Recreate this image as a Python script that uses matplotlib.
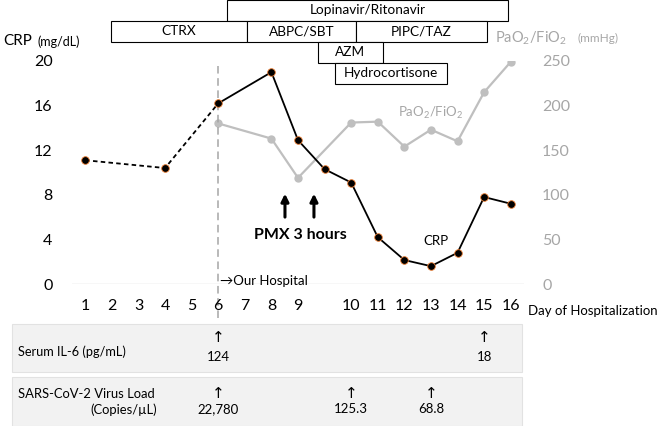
import matplotlib
matplotlib.use("Agg")
import matplotlib.pyplot as plt
import matplotlib.transforms as mtransforms
from matplotlib.patches import Rectangle
import numpy as np

plt.rcParams['font.family'] = ['Lato', 'DejaVu Sans']
plt.rcParams['mathtext.fontset'] = 'custom'
plt.rcParams['mathtext.rm'] = 'Lato'
plt.rcParams['mathtext.it'] = 'Lato:italic'

# ---- data ----
day_labels = ["1", "2", "3", "4", "5", "6", "7", "8", "9", "",
              "10", "11", "12", "13", "14", "15", "16"]
nan = np.nan
crp = [11.1, nan, nan, 10.4, nan, 16.2, nan, 19.0, 12.9, 10.3,
       9.1, 4.2, 2.15, 1.6, 2.8, 7.8, 7.2]
pf_ratio = [nan, nan, nan, nan, nan, 180, nan, 163, 119, nan,
            181, 182, 154, 173, 160, 215, 249]
crp_dashed_until = 5  # outside hospital part (days 1-6) drawn dashed

# treatments: name, start, end (day slot index), row (0 = top)
treat_names = ["Lopinavir/Ritonavir", "CTRX", "ABPC/SBT", "PIPC/TAZ", "AZM", "Hydrocortisone"]
treat_start = [5.33, 0.98, 6.08, 10.2, 8.75, 9.4]
treat_end = [15.9, 6.08, 10.2, 15.1, 11.2, 13.6]
treat_row = [0, 1, 1, 1, 2, 3]

pmx_days = [7.51, 8.6]

il6_pos = [5, 15]
il6_vals = ["124", "18"]
virus_pos = [5, 10, 13]
virus_vals = ["22,780", "125.3", "68.8"]

W, H = 661, 426
fig = plt.figure(figsize=(W / 100, H / 100), dpi=100)
ax = fig.add_axes([72 / W, (H - 284) / H, 452 / W, 223 / H])
ax2 = ax.twinx()

x = np.arange(len(day_labels))
crp_arr = np.array(crp, dtype=float)
pf_arr = np.array(pf_ratio, dtype=float)

gray = "#bfbfbf"
gray_txt = "#a6a6a6"

# PaO2/FiO2 (gaps connected)
m = ~np.isnan(pf_arr)
ax2.plot(x[m], pf_arr[m], color=gray, lw=1.6, marker="o", ms=5,
         mfc=gray, mec=gray, zorder=2)

# CRP
mc = ~np.isnan(crp_arr)
xd = x[mc & (x <= crp_dashed_until)]
ax.plot(xd, crp_arr[xd], color="black", lw=1.3, ls=(0, (2.5, 1.8)), zorder=3)
xs = x[mc & (x >= crp_dashed_until)]
ax.plot(xs, crp_arr[xs], color="black", lw=1.3, zorder=3)
ax.plot(x[mc], crp_arr[mc], ls="none", marker="o", ms=5.5, mfc="black",
        mec="#ed7d31", mew=0.6, zorder=4)

ax.set_zorder(ax2.get_zorder() + 1)
ax.patch.set_visible(False)

ax.set_xlim(-0.5, len(day_labels) - 0.5)
ax.set_ylim(0, 20)
ax2.set_ylim(0, 250)
ax.set_yticks([0, 4, 8, 12, 16, 20])
ax2.set_yticks([0, 50, 100, 150, 200, 250])
ax.set_xticks(x)
ax.set_xticklabels(day_labels)
for a in (ax, ax2):
    for s in a.spines.values():
        s.set_visible(False)
ax.axhline(0, color="#d9d9d9", lw=1, zorder=1)
ax.tick_params(axis="x", length=0, pad=11, labelsize=11.5)
ax.tick_params(axis="y", length=0, pad=14, labelsize=11.5)
ax2.tick_params(axis="y", length=0, pad=13, labelsize=11.5, labelcolor=gray_txt)

# arrival line
ax.plot([5, 5], [-0.152, 0.978], transform=ax.get_xaxis_transform(),
        color="#a6a6a6", lw=1.1, ls=(0, (5, 3)), clip_on=False, zorder=1)
ax.text(5.05, 0.27, "\u2192Our Hospital", fontsize=9.5, va="center", ha="left")

# PMX arrows
for d in pmx_days:
    ax.annotate("", xy=(d, 8.1), xytext=(d, 6.0),
                arrowprops=dict(arrowstyle="-|>", lw=2.2, color="black",
                                mutation_scale=11, shrinkA=0, shrinkB=0))
ax.text(8.1, 4.4, "PMX 3 hours", fontsize=11.5, fontweight="bold", ha="center", va="center")
ax.text(13.2, 3.9, "CRP", fontsize=9.5, ha="center", va="center")
ax.text(13.0, 15.3, "PaO$_2$/FiO$_2$", fontsize=9.5, ha="center", va="center", color=gray_txt)

# treatment boxes
trans = mtransforms.blended_transform_factory(ax.transData, ax.transAxes)
row_top = 1.2735
row_h = 0.094
for name, s, e, r in zip(treat_names, treat_start, treat_end, treat_row):
    y0 = row_top - (r + 1) * row_h
    ax.add_patch(Rectangle((s, y0), e - s, row_h, transform=trans, fill=True,
                           fc="white", ec="black", lw=0.8, clip_on=False, zorder=5))
    ax.text((s + e) / 2, y0 + row_h / 2, name, transform=trans, fontsize=9.8,
            ha="center", va="center", zorder=6, clip_on=False)

# axis titles
fig.text(3 / W, 1 - 41 / H, "CRP", fontsize=11, va="center", ha="left")
fig.text(37 / W, 1 - 42 / H, "(mg/dL)", fontsize=9, va="center", ha="left")
fig.text(495 / W, 1 - 38 / H, "PaO$_2$/FiO$_2$", fontsize=10.5, va="center", ha="left", color=gray_txt)
fig.text(578 / W, 1 - 38 / H, "(mmHg)", fontsize=8.5, va="center", ha="left", color=gray_txt)
fig.text(528 / W, 1 - 311 / H, "Day of Hospitalization", fontsize=9.5, va="center", ha="left")

# lab tables
tx = mtransforms.blended_transform_factory(ax.transData, fig.transFigure)
for top, bot in [(324, 372), (377, 426)]:
    fig.add_artist(Rectangle((12 / W, 1 - bot / H), 510 / W, (bot - top) / H,
                             transform=fig.transFigure, fc="#f2f2f2", ec="#e2e2e2", lw=0.8))
fig.text(18 / W, 1 - 352 / H, "Serum IL-6 (pg/mL)", fontsize=9.2, va="center", ha="left")
for p, v in zip(il6_pos, il6_vals):
    fig.text(p, 1 - 338 / H, "\u2191", transform=tx, fontsize=11, ha="center", va="center",
             family=["DejaVu Sans"])
    fig.text(p, 1 - 357 / H, v, transform=tx, fontsize=9.5, ha="center", va="center")
fig.text(18 / W, 1 - 394 / H, "SARS-CoV-2 Virus Load", fontsize=9.4, va="center", ha="left")
fig.text(157 / W, 1 - 410 / H, "(Copies/\u00b5L)", fontsize=9.4, va="center", ha="right")
for p, v in zip(virus_pos, virus_vals):
    fig.text(p, 1 - 393 / H, "\u2191", transform=tx, fontsize=11, ha="center", va="center",
             family=["DejaVu Sans"])
    fig.text(p, 1 - 409 / H, v, transform=tx, fontsize=9.5, ha="center", va="center")

fig.savefig("out.png", dpi=100)
